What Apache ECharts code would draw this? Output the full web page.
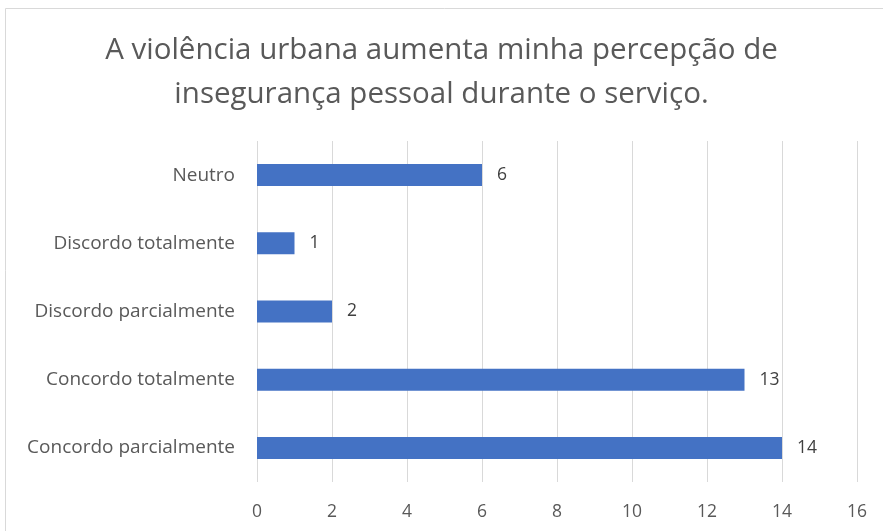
<!DOCTYPE html>
<html>
<head>
<meta charset="utf-8">
<script src="https://cdn.jsdelivr.net/npm/echarts@6/dist/echarts.min.js"></script>
<style>
  html, body { margin: 0; padding: 0; background: #fff; }
  #chart { width: 883px; height: 531px; }
</style>
</head>
<body>
<div id="chart"></div>
<script>
const titleText = 'A violência urbana aumenta minha percepção de\ninsegurança pessoal durante o serviço.'
const categories = ['Concordo parcialmente', 'Concordo totalmente', 'Discordo parcialmente', 'Discordo totalmente', 'Neutro']
const counts = [14, 13, 2, 1, 6]

const chart = echarts.init(document.getElementById('chart'))

const font = '"Open Sans", "Noto Sans", sans-serif'

chart.setOption({
  animation: false,
  title: {
    text: titleText,
    left: 'center',
    top: 24,
    textStyle: {
      fontFamily: font,
      fontSize: 29.5,
      fontWeight: 'normal',
      color: '#595959',
      lineHeight: 44,
    },
  },
  graphic: [
    {
      type: 'rect',
      shape: { x: 5.5, y: 8.5, width: 900, height: 600 },
      style: { fill: 'none', stroke: '#d9d9d9', lineWidth: 1 },
      silent: true,
    },
  ],
  grid: {
    left: 257,
    right: 26,
    top: 141,
    bottom: 49,
    containLabel: false,
  },
  xAxis: {
    type: 'value',
    min: 0,
    max: 16,
    interval: 2,
    axisLine: { show: false },
    axisTick: { show: false },
    axisLabel: {
      fontFamily: font,
      fontSize: 17.5,
      color: '#595959',
      margin: 21,
    },
    splitLine: {
      show: true,
      lineStyle: { color: '#d9d9d9', width: 1 },
    },
  },
  yAxis: {
    type: 'category',
    data: categories,
    axisLine: { show: false },
    axisTick: { show: false },
    axisLabel: {
      fontFamily: font,
      fontSize: 19,
      color: '#595959',
      margin: 22,
    },
  },
  series: [
    {
      type: 'bar',
      data: counts,
      barWidth: 22,
      itemStyle: { color: '#4472c4' },
      label: {
        show: true,
        position: 'right',
        distance: 15,
        fontFamily: font,
        fontSize: 17.5,
        color: '#404040',
      },
    },
  ],
})
</script>
</body>
</html>
